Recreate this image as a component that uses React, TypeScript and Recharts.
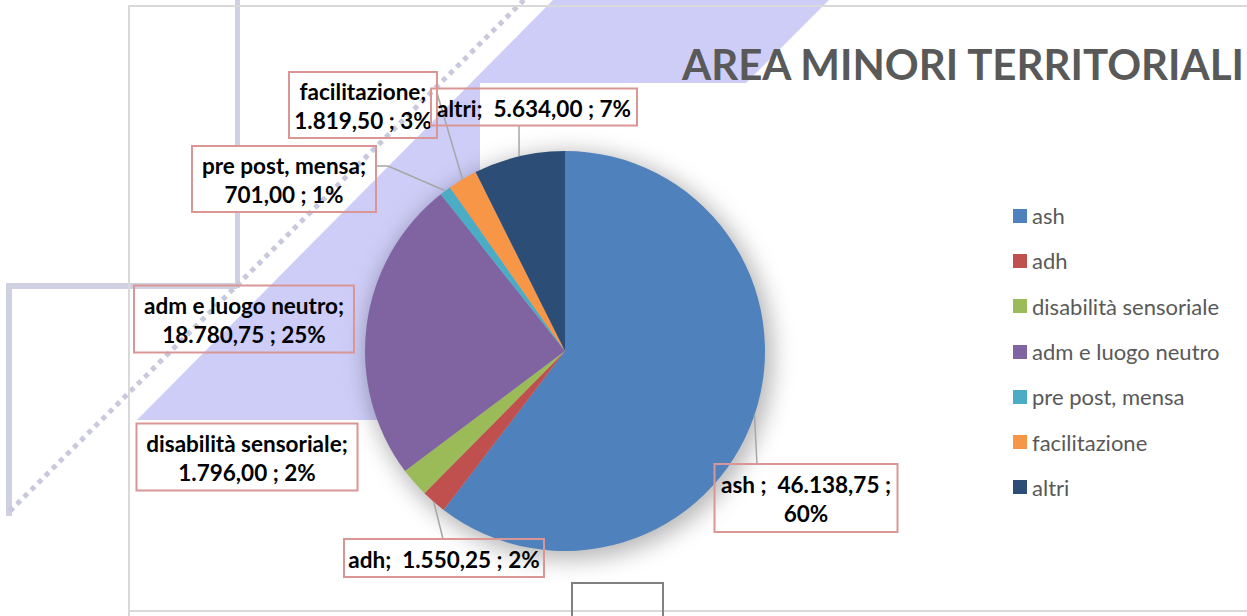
import React from 'react';
import { PieChart, Pie, Cell, Legend } from 'recharts';

const title = 'AREA MINORI TERRITORIALI';
const categories = [
  'ash',
  'adh',
  'disabilità sensoriale',
  'adm e luogo neutro',
  'pre post, mensa',
  'facilitazione',
  'altri'
];
const values = [46138.75, 1550.25, 1796.0, 18780.75, 701.0, 1819.5, 5634.0];
// percentages as printed on the labels
const percentLabels = ['60%', '2%', '2%', '25%', '1%', '3%', '7%'];
const colors = ['#4F81BD', '#C0504D', '#9BBB59', '#8064A2', '#4BACC6', '#F79646', '#2C4D75'];

const data = categories.map((name, i) => ({ name, value: values[i] }));

const PIE_CX = 565;
const PIE_CY = 351;
const PIE_R = 200;

// where each data label box sits, relative to the pie centre
const labelLayout: any[] = [
  { dx: 241, dy: 147, w: 183, h: 68, wrap: 'pct', sep: ' ;  ', ax: -49, ay: -34 },
  { dx: -121, dy: 207, w: 200, h: 38, wrap: 'none', sep: ';  ', ax: -1, ay: -19 },
  { dx: -318, dy: 106, w: 221, h: 67, wrap: 'name', sep: ';' },
  { dx: -321, dy: -32, w: 220, h: 67, wrap: 'name', sep: ';' },
  { dx: -281, dy: -172, w: 184, h: 66, wrap: 'name', sep: ';', ax: 92, ay: -13, elbow: 12 },
  { dx: -202, dy: -246, w: 148, h: 66, wrap: 'name', sep: ';', ax: 74, ay: -12 },
  { dx: -31, dy: -244, w: 206, h: 37, wrap: 'none', sep: ';  ', ax: -15, ay: 18 }
];

const fmt = (v: number) => {
  const [int, dec] = v.toFixed(2).split('.');
  return int.replace(/\B(?=(\d{3})+(?!\d))/g, '.') + ',' + dec;
};

const RAD = Math.PI / 180;

const renderLabel = (props: any) => {
  const { cx, cy, midAngle, outerRadius, index, value } = props;
  const L = labelLayout[index];
  const bx = cx + L.dx;
  const by = cy + L.dy;
  const name = categories[index];
  const pct = percentLabels[index];
  const num = fmt(value);
  let lines: string[];
  if (L.wrap === 'none') lines = [`${name}${L.sep}${num} ; ${pct}`];
  else if (L.wrap === 'name') lines = [`${name}${L.sep}`, `${num} ; ${pct}`];
  else lines = [`${name}${L.sep}${num} ;`, pct];

  let leader = null;
  if (L.ax !== undefined) {
    const ex = cx + outerRadius * Math.cos(-midAngle * RAD);
    const ey = cy + outerRadius * Math.sin(-midAngle * RAD);
    const sx = bx + L.ax;
    const sy = by + L.ay;
    const pts = L.elbow
      ? `${sx},${sy} ${sx + L.elbow},${sy} ${ex},${ey}`
      : `${sx},${sy} ${ex},${ey}`;
    leader = <polyline points={pts} fill="none" stroke="#a6a6a6" strokeWidth={1.5} />;
  }

  return (
    <g key={`lbl-${index}`}>
      {leader}
      <rect
        x={bx - L.w / 2}
        y={by - L.h / 2}
        width={L.w}
        height={L.h}
        fill="none"
        stroke="#D99694"
        strokeWidth={2}
      />
      {lines.map((t, i) => (
        <text
          key={i}
          x={bx}
          y={by + (i - (lines.length - 1) / 2) * 29 + 1}
          textAnchor="middle"
          dominantBaseline="central"
          fontFamily="Lato"
          fontWeight={700}
          fontSize={22.5}
          fill="#000"
          style={{ whiteSpace: 'pre' }}
        >
          {t}
        </text>
      ))}
    </g>
  );
};

const LegendContent = () => (
  <div style={{ fontFamily: 'Lato', fontSize: 22, color: '#595959', textAlign: 'left' }}>
    {categories.map((c, i) => (
      <div key={c} style={{ display: 'flex', alignItems: 'center', height: 45.3 }}>
        <span style={{ width: 14, height: 14, background: colors[i], marginRight: 5, display: 'inline-block' }} />
        <span>{c}</span>
      </div>
    ))}
  </div>
);

const Backdrop = () => (
  <svg width={1247} height={616} style={{ position: 'absolute', left: 0, top: 0 }}>
    <defs>
      <filter id="pieGlow" x="-30%" y="-30%" width="160%" height="160%">
        <feGaussianBlur stdDeviation="11" />
      </filter>
    </defs>
    <rect x={0} y={0} width={1247} height={616} fill="#fff" />
    {/* scanned page leftovers behind the chart */}
    <line x1={237.5} y1={0} x2={237.5} y2={146} stroke="#d0d0e3" strokeWidth={5} />
    <line x1={237.5} y1={212} x2={237.5} y2={288} stroke="#d0d0e3" strokeWidth={5} />
    <polyline points="237,286 9,286 9,516" fill="none" stroke="#d0d0e3" strokeWidth={6} />
    <polygon points="553,0 829,0 409,420 137,420" fill="#cdcdf8" />
    <rect x={480} y={83} width={400} height={300} fill="#fff" />
    <line x1={524} y1={0} x2={9} y2={512} stroke="#c9c9dd" strokeWidth={5} strokeDasharray="5 5" />
    <polyline points="129,616 129,6 1247,6" fill="none" stroke="#d9d9d9" strokeWidth={2} />
    <line x1={129} y1={611} x2={1247} y2={611} stroke="#d9d9d9" strokeWidth={2} />
    <polyline points="572,616 572,583 663,583 663,616" fill="none" stroke="#808080" strokeWidth={2} />
    {/* soft shadow under the pie */}
    <circle cx={PIE_CX + 4} cy={PIE_CY + 5} r={PIE_R + 4} fill="rgba(0,0,0,0.28)" filter="url(#pieGlow)" />
    <text
      x={963}
      y={80}
      textAnchor="middle"
      fontFamily="Lato"
      fontWeight={700}
      fontSize={42}
      fill="#595959"
    >
      {title}
    </text>
  </svg>
);

export default function App() {
  return (
    <div style={{ position: 'absolute', left: 0, top: 0, width: 1247, height: 616, overflow: 'hidden' }}>
      <Backdrop />
      <div style={{ position: 'absolute', left: 0, top: 0 }}>
        <PieChart width={1247} height={616} margin={{ top: 0, right: 0, bottom: 0, left: 0 }}>
          <Pie
            data={data}
            dataKey="value"
            nameKey="name"
            cx={PIE_CX}
            cy={PIE_CY}
            outerRadius={PIE_R}
            startAngle={90}
            endAngle={-270}
            stroke="none"
            labelLine={false}
            label={renderLabel}
            isAnimationActive={false}
          >
            {data.map((d, i) => (
              <Cell key={d.name} fill={colors[i]} />
            ))}
          </Pie>
          <Legend
            layout="vertical"
            align="right"
            verticalAlign="top"
            content={<LegendContent />}
            wrapperStyle={{ left: 1013, top: 193, right: 'auto', width: 234 }}
          />
        </PieChart>
      </div>
    </div>
  );
}
